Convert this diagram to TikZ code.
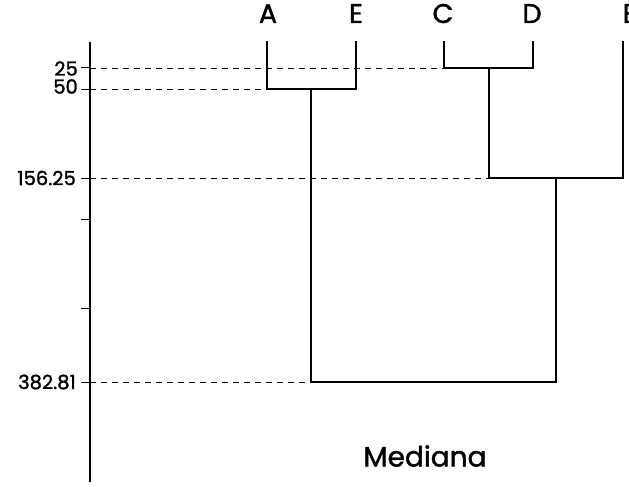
\documentclass[tikz,border=0pt]{standalone}
\usepackage{fontspec}
\setmainfont{Poppins}[FakeBold=1.5]
\newfontfamily\lblfont{Poppins}[FakeBold=1.5]
\begin{document}
\begin{tikzpicture}[x=1pt,y=-1pt,
  tree/.style={line width=2.8pt,line cap=rect},
  guide/.style={line width=0.8pt,dash pattern=on 6pt off 5pt},
  leaf/.style={font=\lblfont\fontsize{27}{27}\selectfont,inner sep=0pt,anchor=base},
  tick/.style={font=\lblfont\fontsize{19.5}{19.5}\selectfont,inner sep=0pt,anchor=east}]
\useasboundingbox (0,0) rectangle (629,487);
% axis
\coordinate (ax0) at (90,42);
\coordinate (ax1) at (90,482);
\draw[line width=2pt] (ax0) -- (ax1);
\foreach \y/\n in {68/t25,89/t50,178/t156,219/tx1,308/tx2,382/t382}{
  \coordinate (\n) at (90,\y);
  \coordinate (\n l) at (81,\y);
  \draw[line width=1pt] (\n l) -- (\n);
}
\node[tick] (l25) at (78,68.5) {25};
\node[tick] (l50) at (78,86.5) {50};
\node[tick] (l156) at (76,178) {156.25};
\node[tick] (l382) at (76,382) {382.81};
% leaves
\node[leaf] (A) at (268,23) {A};
\node[leaf] (E) at (356,23) {E};
\node[leaf] (C) at (443,23) {C};
\node[leaf] (D) at (532,23) {D};
\node[leaf] (B) at (631,23) {B};
\coordinate (Ab) at (267,42);
\coordinate (Eb) at (356,42);
\coordinate (Cb) at (444,42);
\coordinate (Db) at (533,42);
\coordinate (Bb) at (623,42);
\coordinate (AEj) at (311,89);
\coordinate (CDj) at (489,68);
\coordinate (CDBj) at (556,178);
\coordinate (root) at (433,382);
% dashed guides
\draw[guide] (t25) -- (Cb |- CDj);
\draw[guide] (t50) -- (Ab |- AEj);
\draw[guide] (t156) -- (CDj |- CDBj);
\draw[guide] (t382) -- (AEj |- root);
% dendrogram
\draw[tree] (Ab) -- (Ab |- AEj) -- (Eb |- AEj) -- (Eb);
\draw[tree] (Cb) -- (Cb |- CDj) -- (Db |- CDj) -- (Db);
\draw[tree] (CDj) -- (CDj |- CDBj) -- (Bb |- CDBj) -- (Bb);
\draw[tree] (AEj) -- (AEj |- root) -- (CDBj |- root) -- (CDBj);
% title
\node[font=\lblfont\fontsize{28}{28}\selectfont,inner sep=0pt] (title) at (425,456) {Mediana};
\end{tikzpicture}
\end{document}
